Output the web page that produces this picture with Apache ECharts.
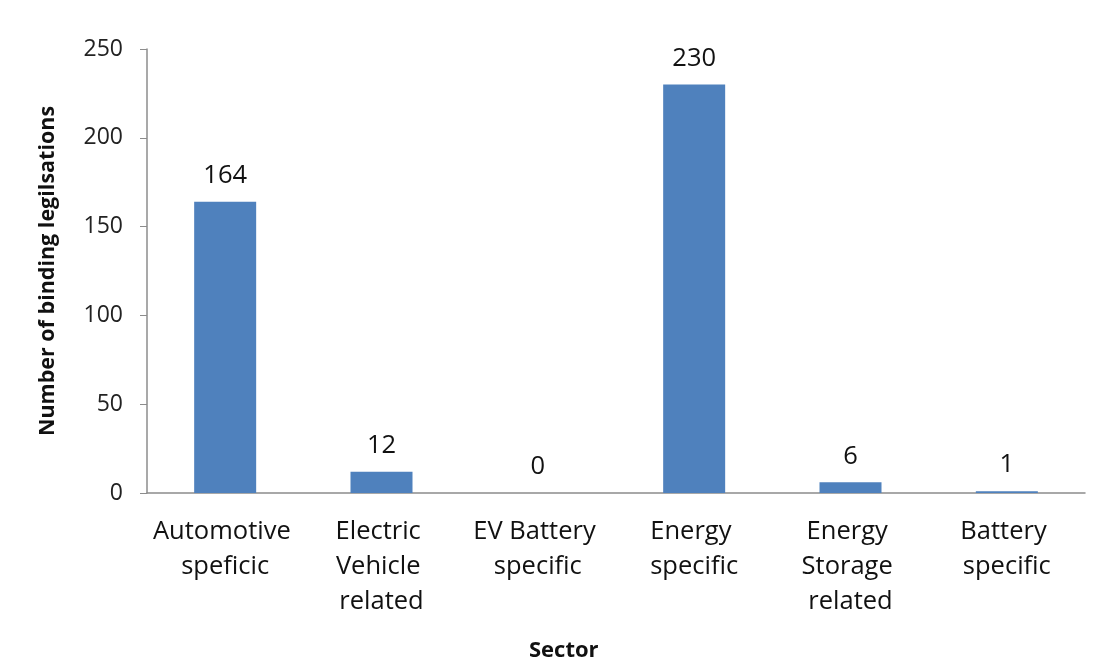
<!DOCTYPE html>
<html><head><meta charset="utf-8">
<script src="https://cdn.jsdelivr.net/npm/echarts@6/dist/echarts.min.js"></script>
<style>html,body{margin:0;padding:0;background:#fff}#c{width:1107px;height:661px}</style>
</head><body><div id="c"></div>
<script>
const categories = ["Automotive speficic", "Electric Vehicle related", "EV Battery specific", "Energy specific", "Energy Storage related", "Battery specific"];
const values = [164, 12, 0, 230, 6, 1];
const yTicks = [0, 50, 100, 150, 200, 250];
const yTitle = "Number of binding legilsations";
const xTitle = "Sector";

const FONT = "'Open Sans', 'Noto Sans', sans-serif";
const chart = echarts.init(document.getElementById('c'), null, {renderer: 'canvas'});
chart.setOption({
  animation: false,
  backgroundColor: '#fff',
  title: {text: xTitle, left: 524, top: 635, textStyle: {fontFamily: FONT, fontSize: 22, fontWeight: 'bold', color: '#111'}},
  grid: {left: 147, right: 22, top: 49, bottom: 168, containLabel: false},
  xAxis: {
    type: 'category', data: categories,
    axisLine: {lineStyle: {color: '#8c8c8c', width: 1.5}},
    axisTick: {show: false},
    axisLabel: {interval: 0, fontFamily: FONT, fontSize: 25.5, color: '#111', lineHeight: 35, margin: 21, width: 152, overflow: 'break'}
  },
  yAxis: {
    type: 'value', min: yTicks[0], max: yTicks[yTicks.length - 1], interval: 50,
    name: yTitle, nameLocation: 'middle', nameGap: 88,
    nameTextStyle: {fontFamily: FONT, fontSize: 21.5, fontWeight: 'bold', color: '#111'},
    axisLine: {show: true, lineStyle: {color: '#8c8c8c', width: 1.5}},
    axisTick: {show: true, length: 7, lineStyle: {color: '#8c8c8c'}},
    splitLine: {show: false},
    axisLabel: {fontFamily: FONT, fontSize: 23, color: '#222', margin: 24}
  },
  series: [{
    type: 'bar', data: values, barWidth: 62,
    itemStyle: {color: '#4F81BD'},
    label: {show: true, position: 'top', distance: 13, fontFamily: FONT, fontSize: 25.5, color: '#111'}
  }]
});
</script></body></html>
